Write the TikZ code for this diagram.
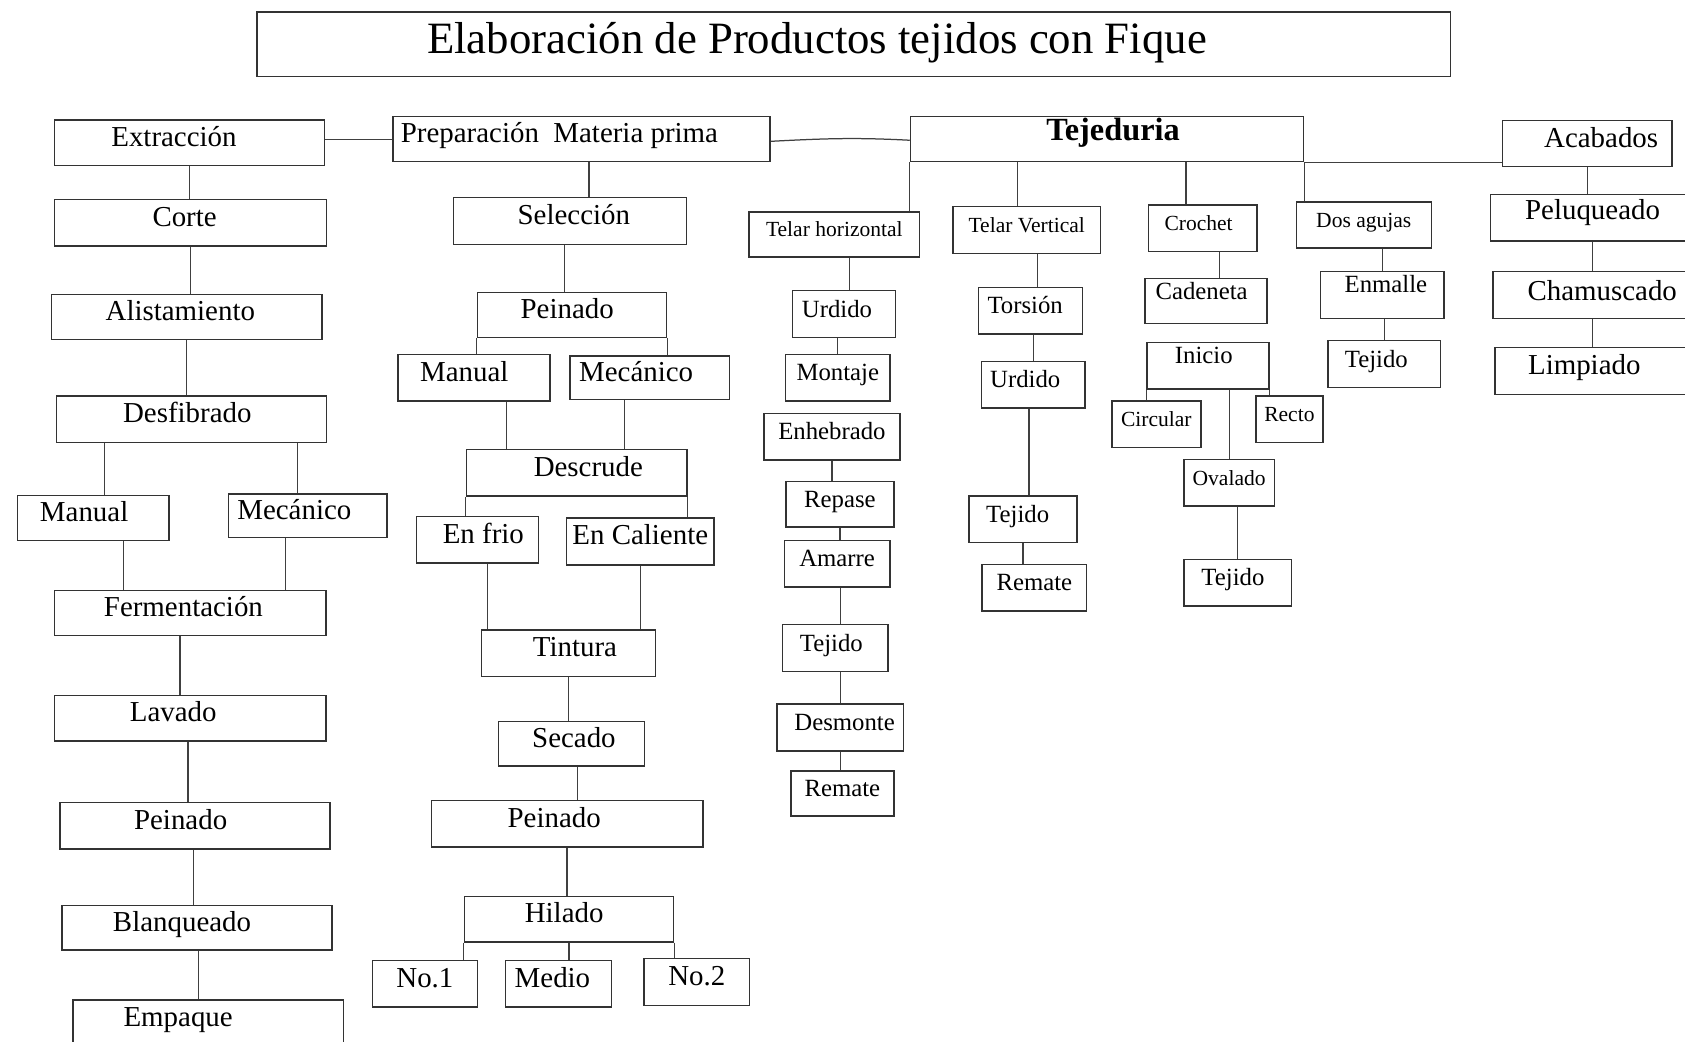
\documentclass[tikz,border=0pt]{standalone}
\usepackage{fontspec}
\setmainfont{Liberation Serif}
\usepackage{tikz}

\begin{document}
\begin{tikzpicture}[x=0.01cm, y=-0.01cm,
    proc_node/.style={draw=black!80, line width=0.4pt, rectangle, inner sep=0pt,
        font=\fontsize{7.65}{9}\selectfont, text height=0.16cm, text depth=0.095cm},
    mid_node/.style={proc_node, font=\fontsize{6.55}{8}\selectfont, text height=0.14cm, text depth=0.08cm},
    small_node/.style={proc_node, font=\fontsize{5.7}{7}\selectfont, text height=0.12cm, text depth=0.07cm},
    link_line/.style={draw=black!75, line width=0.33pt}]

    \useasboundingbox (0,0) rectangle (1568,969);
    \clip (0,0) rectangle (1568,969);

    \node[proc_node, minimum width=11.1cm, minimum height=0.6cm, font=\fontsize{11.85}{14}\selectfont,
        text height=0.30cm, text depth=0.13cm] (title) at (794.3,41) {Elaboración de Productos tejidos con Fique\hspace*{0.68cm}};

    \node[proc_node, minimum width=2.51cm, minimum height=0.42cm] (extr)  at (176.4,132.8) {Extracción\hspace*{0.29cm}};
    \node[proc_node, minimum width=2.53cm, minimum height=0.434cm] (corte) at (177.3,207.2) {Corte\hspace*{0.11cm}};
    \node[proc_node, minimum width=2.52cm, minimum height=0.42cm] (alist) at (173.8,294.9) {Alistamiento\hspace*{0.12cm}};
    \node[proc_node, minimum width=2.51cm, minimum height=0.431cm] (desf)  at (178.3,390) {Desfibrado\hspace*{0.08cm}};
    \node[proc_node, minimum width=1.41cm, minimum height=0.415cm] (man1)  at (86.8,482) {Manual\hspace*{0.17cm}};
    \node[proc_node, minimum width=1.476cm, minimum height=0.403cm] (mec1) at (286.4,479.9) {Mecánico\hspace*{0.25cm}};
    \node[proc_node, minimum width=2.526cm, minimum height=0.419cm] (ferm) at (177.2,570.3) {Fermentación\hspace*{0.13cm}};
    \node[proc_node, minimum width=2.526cm, minimum height=0.423cm] (lav)  at (177.2,668.2) {Lavado\hspace*{0.32cm}};
    \node[proc_node, minimum width=2.513cm, minimum height=0.432cm] (pein1) at (181.6,768.2) {Peinado\hspace*{0.27cm}};
    \node[proc_node, minimum width=2.513cm, minimum height=0.412cm] (blanq) at (183.4,863.4) {Blanqueado\hspace*{0.28cm}};
    \node[proc_node, minimum width=2.513cm, minimum height=0.43cm] (emp)   at (193.8,952.1) {Empaque\hspace*{0.56cm}};

    \node[proc_node, minimum width=3.508cm, minimum height=0.419cm] (prep) at (541.1,129.5) {Preparación\ \ Materia prima\hspace*{0.41cm}};
    \node[proc_node, minimum width=2.167cm, minimum height=0.434cm] (selec) at (530.5,205.7) {\hspace*{0.07cm}Selección};
    \node[proc_node, minimum width=1.758cm, minimum height=0.419cm] (pein2) at (532.3,293) {Peinado\hspace*{0.09cm}};
    \node[proc_node, minimum width=1.416cm, minimum height=0.435cm] (man2)  at (441.1,351.5) {Manual\hspace*{0.18cm}};
    \node[proc_node, minimum width=1.482cm, minimum height=0.403cm] (mec2)  at (604.5,351.5) {Mecánico\hspace*{0.25cm}};
    \node[proc_node, minimum width=2.051cm, minimum height=0.435cm] (desc)  at (536.5,439.9) {\hspace*{0.22cm}Descrude};
    \node[proc_node, minimum width=1.138cm, minimum height=0.434cm] (enfrio) at (444.3,502.2) {\hspace*{0.11cm}En frio};
    \node[proc_node, minimum width=1.374cm, minimum height=0.435cm] (encal) at (595.8,503.8) {En Caliente};
    \node[proc_node, minimum width=1.621cm, minimum height=0.434cm] (tint)  at (529,608) {\hspace*{0.12cm}Tintura};
    \node[proc_node, minimum width=1.358cm, minimum height=0.416cm] (sec)   at (531.6,692) {\hspace*{0.05cm}Secado};
    \node[proc_node, minimum width=2.526cm, minimum height=0.434cm] (pein3) at (527.7,766.5) {Peinado\hspace*{0.24cm}};
    \node[proc_node, minimum width=1.948cm, minimum height=0.419cm] (hil)   at (529.5,855.4) {Hilado\hspace*{0.09cm}};
    \node[proc_node, minimum width=0.979cm, minimum height=0.434cm] (no1)   at (395.4,915.4) {No.1};
    \node[proc_node, minimum width=0.984cm, minimum height=0.434cm] (medio) at (519.6,915.4) {Medio\hspace*{0.11cm}};
    \node[proc_node, minimum width=0.978cm, minimum height=0.434cm] (no2)   at (648.4,913.8) {No.2};

    \node[proc_node, minimum width=3.656cm, minimum height=0.418cm, font=\fontsize{8.55}{10}\selectfont\bfseries,
        text depth=0.13cm] (tej) at (1030.2,129.5) {\hspace*{0.11cm}Tejeduria};
    \node[small_node, minimum width=1.588cm, minimum height=0.419cm] (telh) at (776.4,218) {Telar horizontal};
    \node[mid_node, minimum width=0.959cm, minimum height=0.434cm] (urd1)  at (785.4,292.2) {Urdido\hspace*{0.13cm}};
    \node[mid_node, minimum width=0.973cm, minimum height=0.435cm] (mont)  at (779.6,351.5) {Montaje};
    \node[mid_node, minimum width=1.261cm, minimum height=0.435cm] (enheb) at (774.2,406.4) {Enhebrado};
    \node[mid_node, minimum width=1.004cm, minimum height=0.419cm] (rep)   at (781.6,469.2) {Repase};
    \node[mid_node, minimum width=0.981cm, minimum height=0.434cm] (amar)  at (779,524.5) {Amarre};
    \node[mid_node, minimum width=0.98cm, minimum height=0.434cm] (tej1)   at (777.1,603) {Tejido\hspace*{0.07cm}};
    \node[mid_node, minimum width=1.175cm, minimum height=0.435cm] (desm)  at (782,676.9) {\hspace*{0.08cm}Desmonte};
    \node[mid_node, minimum width=0.958cm, minimum height=0.419cm] (rem1)  at (783.9,738.5) {Remate};

    \node[small_node, minimum width=1.373cm, minimum height=0.434cm] (telv) at (955.4,214) {Telar Vertical};
    \node[mid_node, minimum width=0.965cm, minimum height=0.434cm] (tors)  at (959,289.1) {Torsión\hspace*{0.1cm}};
    \node[mid_node, minimum width=0.961cm, minimum height=0.433cm] (urd2)  at (961.6,358) {Urdido\hspace*{0.15cm}};
    \node[mid_node, minimum width=1.001cm, minimum height=0.433cm] (tej2)  at (952,483) {Tejido\hspace*{0.1cm}};
    \node[mid_node, minimum width=0.969cm, minimum height=0.434cm] (rem2)  at (962.5,546.9) {Remate};

    \node[small_node, minimum width=1.009cm, minimum height=0.433cm] (croch) at (1119.4,212.4) {Crochet\hspace*{0.08cm}};
    \node[mid_node, minimum width=1.133cm, minimum height=0.419cm, text depth=0.16cm] (caden) at (1122.2,280) {Cadeneta\hspace*{0.08cm}};
    \node[mid_node, minimum width=1.134cm, minimum height=0.432cm, text depth=0.19cm] (ini)   at (1124.2,340.4) {Inicio\hspace*{0.08cm}};
    \node[small_node, minimum width=0.827cm, minimum height=0.431cm] (circ)  at (1076,394.8) {Circular};
    \node[small_node, minimum width=0.621cm, minimum height=0.431cm] (recto) at (1199.9,390) {Recto};
    \node[small_node, minimum width=0.839cm, minimum height=0.434cm] (oval)  at (1143.8,449.2) {Ovalado};
    \node[mid_node, minimum width=0.999cm, minimum height=0.434cm] (tej3)  at (1151.8,542.2) {Tejido\hspace*{0.09cm}};

    \node[small_node, minimum width=1.256cm, minimum height=0.427cm] (dosag) at (1269.1,209.2) {Dos agujas};
    \node[mid_node, minimum width=1.15cm, minimum height=0.434cm, text depth=0.19cm] (enm) at (1286.2,274.5) {\hspace*{0.07cm}Enmalle};
    \node[mid_node, minimum width=1.045cm, minimum height=0.435cm] (tej4)  at (1288.3,338.8) {Tejido\hspace*{0.15cm}};

    \node[proc_node, minimum width=1.58cm, minimum height=0.428cm] (acab) at (1477,133.7) {\hspace*{0.26cm}Acabados};
    \node[proc_node, minimum width=2.1cm, minimum height=0.434cm, text depth=0.13cm] (pelu) at (1492,202.5) {Peluqueado\hspace*{0.2cm}};
    \node[proc_node, minimum width=2.1cm, minimum height=0.434cm, text depth=0.065cm] (chamus) at (1494.5,274.5) {Chamuscado\hspace*{0.07cm}};
    \node[proc_node, minimum width=2.1cm, minimum height=0.434cm] (limp) at (1496.3,345.2) {Limpiado\hspace*{0.44cm}};

    \draw[link_line] (extr.east |- prep.west) -- (prep.west);
    \draw[link_line] (extr.south) -- (extr.south |- corte.north);
    \draw[link_line] (corte.south) -- (corte.south |- alist.north);
    \draw[link_line] (alist.south) -- (alist.south |- desf.north);
    \draw[link_line] (desf.south -| 97,0) -- (man1.north -| 97,0);
    \draw[link_line] (desf.south -| 277,0) -- (mec1.north -| 277,0);
    \draw[link_line] (man1.south -| 115,0) -- (ferm.north -| 115,0);
    \draw[link_line] (mec1.south -| 266,0) -- (ferm.north -| 266,0);
    \draw[link_line] (ferm.south -| 167.5,0) -- (lav.north -| 167.5,0);
    \draw[link_line] (lav.south -| 175,0) -- (pein1.north -| 175,0);
    \draw[link_line] (pein1.south -| 180,0) -- (blanq.north -| 180,0);
    \draw[link_line] (blanq.south -| 184.5,0) -- (emp.north -| 184.5,0);

    \draw[link_line] (prep.south -| 548,0) -- (selec.north -| 548,0);
    \draw[link_line] (selec.south -| 525.5,0) -- (pein2.north -| 525.5,0);
    \draw[link_line] (pein2.south west) -- (pein2.south west |- man2.north);
    \draw[link_line] (pein2.south east) -- (pein2.south east |- mec2.north);
    \draw[link_line] (man2.south -| 471,0) -- (desc.north -| 471,0);
    \draw[link_line] (mec2.south -| 581,0) -- (desc.north -| 581,0);
    \draw[link_line] (desc.south west) -- (desc.south west |- enfrio.north);
    \draw[link_line] (desc.south east) -- (desc.south east |- encal.north);
    \draw[link_line] (enfrio.south -| 453.5,0) -- (tint.north -| 453.5,0);
    \draw[link_line] (encal.south) -- (encal.south |- tint.north);
    \draw[link_line] (tint.south) -- (tint.south |- sec.north);
    \draw[link_line] (sec.south -| 537.5,0) -- (pein3.north -| 537.5,0);
    \draw[link_line] (pein3.south) -- (pein3.south |- hil.north);
    \draw[link_line] (hil.south west) -- (hil.south west |- no1.north);
    \draw[link_line] (hil.south) -- (hil.south |- medio.north);
    \draw[link_line] (hil.south east) -- (hil.south east |- no2.north);

    \draw[link_line] ([yshift=-0.02cm]prep.east) to[out=3,in=177] ([yshift=-0.01cm]tej.west);
    \draw[link_line] (tej.south east) -- (tej.south east -| acab.west);
    \draw[link_line] (tej.south west) -- (tej.south west |- telh.north);
    \draw[link_line] (tej.south -| 946.6,0) -- (telv.north -| 946.6,0);
    \draw[link_line] (tej.south -| 1103.7,0) -- (croch.north -| 1103.7,0);
    \draw[link_line] (tej.south east) -- (tej.south east |- dosag.north);

    \draw[link_line] (telh.south -| 790.7,0) -- (urd1.north -| 790.7,0);
    \draw[link_line] (urd1.south -| mont.north) -- (mont.north);
    \draw[link_line] (enheb.south) -- (enheb.south |- rep.north);
    \draw[link_line] (rep.south) -- (rep.south |- amar.north);
    \draw[link_line] (amar.south -| 782,0) -- (tej1.north -| 782,0);
    \draw[link_line] (tej1.south -| desm.north) -- (desm.north);
    \draw[link_line] (desm.south) -- (desm.south |- rem1.north);

    \draw[link_line] (telv.south -| 965.7,0) -- (tors.north -| 965.7,0);
    \draw[link_line] (tors.south -| urd2.north) -- (urd2.north);
    \draw[link_line] (urd2.south -| 957.5,0) -- (tej2.north -| 957.5,0);
    \draw[link_line] (tej2.south) -- (tej2.south |- rem2.north);

    \draw[link_line] (croch.south -| 1134.5,0) -- (caden.north -| 1134.5,0);
    \draw[link_line] (ini.south west) -- (ini.south west |- circ.north);
    \draw[link_line] (ini.south east) -- (ini.south east |- recto.north);
    \draw[link_line] (ini.south -| oval.north) -- (oval.north);
    \draw[link_line] (oval.south -| tej3.north) -- (tej3.north);

    \draw[link_line] (dosag.south -| enm.north) -- (enm.north);
    \draw[link_line] (enm.south -| tej4.north) -- (tej4.north);

    \draw[link_line] (acab.south) -- (acab.south |- pelu.north);
    \draw[link_line] (pelu.south -| 1481.7,0) -- (chamus.north -| 1481.7,0);
    \draw[link_line] (chamus.south -| 1481.7,0) -- (limp.north -| 1481.7,0);

\end{tikzpicture}
\end{document}
